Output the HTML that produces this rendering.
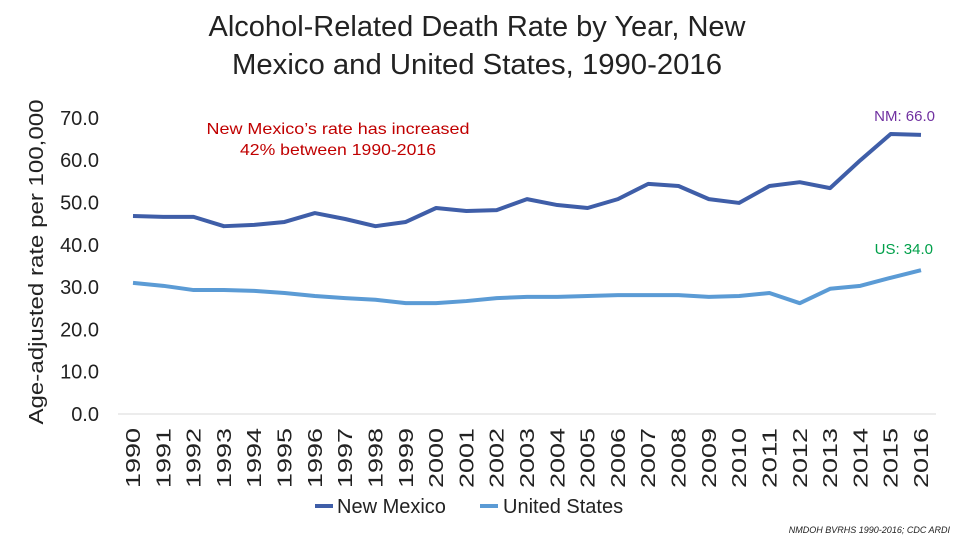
<!DOCTYPE html>
<html><head><meta charset="utf-8"><style>
body{margin:0;background:#fff;}
svg text{font-family:"Liberation Sans",sans-serif;}
</style></head><body>
<svg width="960" height="540" viewBox="0 0 960 540">
<text x="477" y="36" text-anchor="middle" font-size="29" fill="#222" textLength="537" lengthAdjust="spacingAndGlyphs">Alcohol-Related Death Rate by Year, New</text>
<text x="477" y="74" text-anchor="middle" font-size="29" fill="#222" textLength="490" lengthAdjust="spacingAndGlyphs">Mexico and United States, 1990-2016</text>
<text transform="translate(43,262) rotate(-90)" text-anchor="middle" font-size="20" fill="#222" textLength="325" lengthAdjust="spacingAndGlyphs">Age-adjusted rate per 100,000</text>
<g id="yticks"></g>
<g id="xticks"></g>
<line x1="118" y1="414" x2="936" y2="414" stroke="#d9d9d9"/>
<g id="series"></g>
<text x="338" y="134" text-anchor="middle" font-size="16" fill="#c00000" textLength="263" lengthAdjust="spacingAndGlyphs">New Mexico’s rate has increased</text>
<text x="338" y="155" text-anchor="middle" font-size="16" fill="#c00000" textLength="196" lengthAdjust="spacingAndGlyphs">42% between 1990-2016</text>
<text x="935" y="121" text-anchor="end" font-size="15" fill="#7030a0">NM: 66.0</text>
<text x="933" y="254" text-anchor="end" font-size="15" fill="#00a04a">US: 34.0</text>
<g>
<line x1="315" y1="506" x2="333" y2="506" stroke="#3f5ea8" stroke-width="4"/>
<text x="337" y="513" font-size="20" fill="#222">New Mexico</text>
<line x1="480" y1="506" x2="498" y2="506" stroke="#5b9bd5" stroke-width="4"/>
<text x="503" y="513" font-size="20" fill="#222">United States</text>
</g>
<text x="950" y="533" text-anchor="end" font-size="9" font-style="italic" fill="#222">NMDOH BVRHS 1990-2016; CDC ARDI</text>
</svg>
<script>
const years=[1990,1991,1992,1993,1994,1995,1996,1997,1998,1999,2000,2001,2002,2003,2004,2005,2006,2007,2008,2009,2010,2011,2012,2013,2014,2015,2016];
const nmValues=[46.8,46.6,46.6,44.4,44.7,45.4,47.5,46.1,44.4,45.4,48.7,48.0,48.2,50.8,49.4,48.7,50.8,54.4,53.9,50.8,49.9,53.9,54.8,53.4,60.0,66.2,66.0];
const usValues=[31.0,30.3,29.3,29.3,29.1,28.6,27.9,27.4,27.0,26.2,26.2,26.7,27.4,27.7,27.7,27.9,28.1,28.1,28.1,27.7,27.9,28.6,26.2,29.6,30.3,32.2,34.0];
const yTicks=[0,10,20,30,40,50,60,70];
const NS="http://www.w3.org/2000/svg";
const yS=v=>414-v*4.23;
const xS=i=>133+i*(921-133)/(years.length-1);
const yg=document.getElementById('yticks');
yTicks.forEach(t=>{const e=document.createElementNS(NS,'text');


e.setAttribute('x',99);e.setAttribute('y',yS(t)+7);e.setAttribute('text-anchor','end');e.setAttribute('font-size','20');e.setAttribute('fill','#222');e.textContent=t.toFixed(1);yg.appendChild(e);});
const xg=document.getElementById('xticks');
years.forEach((y,i)=>{const e=document.createElementNS(NS,'text');


e.setAttribute('transform',`translate(${xS(i)+7},428) rotate(-90)`);e.setAttribute('text-anchor','end');e.setAttribute('font-size','20');e.setAttribute('textLength','60');e.setAttribute('lengthAdjust','spacingAndGlyphs');e.setAttribute('fill','#222');e.textContent=y;xg.appendChild(e);});
const sg=document.getElementById('series');
[[nmValues,'#3f5ea8','nm-line'],[usValues,'#5b9bd5','us-line']].forEach(([vals,c,n])=>{const p=document.createElementNS(NS,'polyline');


p.setAttribute('points',vals.map((v,i)=>xS(i)+','+yS(v)).join(' '));p.setAttribute('fill','none');p.setAttribute('stroke',c);p.setAttribute('stroke-width','4');p.setAttribute('stroke-linejoin','round');sg.appendChild(p);});
</script>
</body></html>
